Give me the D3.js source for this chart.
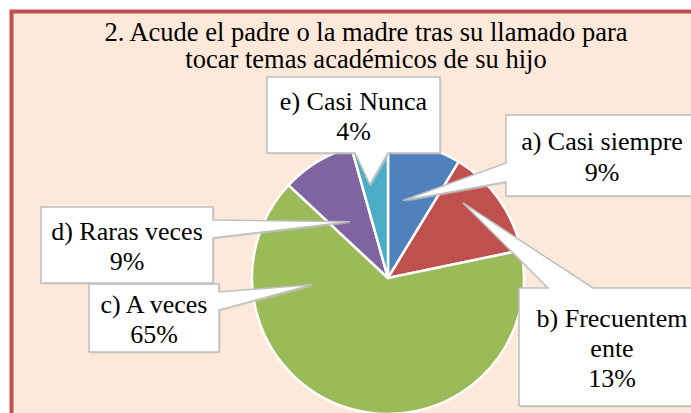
<!DOCTYPE html>
<html>
<head>
<meta charset="utf-8">
<script src="https://cdn.jsdelivr.net/npm/d3@7"></script>
</head>
<body style="margin:0">
<svg id="chart"></svg>
<script>
// data
var titleLines = ["2. Acude el padre o la madre tras su llamado para", "tocar temas académicos de su hijo"];
var categories = ["a) Casi siempre", "b) Frecuentemente", "c) A veces", "d) Raras veces", "e) Casi Nunca"];
var counts = [2, 3, 15, 2, 1];
var colors = ["#4F81BD", "#C0504D", "#9BBB59", "#8064A2", "#4BACC6"];

var width = 691, height = 413;
var cx = 388, cy = 278, radius = 136;
var lineGap = 30.3;

// callout boxes: box, edge the wedge leaves from, wedge span along that edge, tip (deg, fraction of radius)
var callouts = [
  {box: [506, 115, 192, 81], side: "left",   span: [163, 182], tip: [11, 0.58], wrap: 0},
  {box: [519, 288, 186, 118], side: "top",   span: [548, 593], tip: [45, 0.78], wrap: 13},
  {box: [89, 284, 130, 68], side: "right",   span: [292, 310], tip: [265, 0.56], wrap: 0},
  {box: [41, 207, 172, 76], side: "right",   span: [220, 238], tip: [326, 0.50], wrap: 0},
  {box: [267, 77, 173, 76], side: "bottom",  span: [355, 388], tip: [349, 0.70], wrap: 0}
];

var svg = d3.select("#chart").attr("width", width).attr("height", height);

svg.append("rect")
    .attr("x", 11.5).attr("y", 11.5)
    .attr("width", 700).attr("height", 420)
    .attr("fill", "#FDE9D9")
    .attr("stroke", "#C0504D")
    .attr("stroke-width", 4);

svg.selectAll(".title")
  .data(titleLines)
  .enter().append("text")
    .attr("class", "title")
    .attr("x", 366)
    .attr("y", (d, i) => 40.5 + i * 27.8)
    .attr("text-anchor", "middle")
    .attr("font-family", "Liberation Serif")
    .attr("font-size", 26.5)
    .text(d => d);

var total = d3.sum(counts);
var fmt = d3.format(".0%");

var pie = d3.pie().sort(null).value(d => d);
var arc = d3.arc().innerRadius(0).outerRadius(radius);
var arcs = pie(counts);

var g = svg.append("g").attr("transform", "translate(" + cx + "," + cy + ")");

g.selectAll("path")
  .data(arcs)
  .enter().append("path")
    .attr("d", arc)
    .attr("fill", (d, i) => colors[i])
    .attr("stroke", "#fff")
    .attr("stroke-width", 2.5)
    .attr("stroke-linejoin", "round");

function calloutPath(c) {
  var x = c.box[0], y = c.box[1], w = c.box[2], h = c.box[3];
  var p = d3.pointRadial(c.tip[0] * Math.PI / 180, c.tip[1] * radius);
  var tx = cx + p[0], ty = cy + p[1];
  var a = c.span[0], b = c.span[1];
  var path = d3.path();
  path.moveTo(x, y);
  if (c.side == "top") { path.lineTo(a, y); path.lineTo(tx, ty); path.lineTo(b, y); }
  path.lineTo(x + w, y);
  if (c.side == "right") { path.lineTo(x + w, a); path.lineTo(tx, ty); path.lineTo(x + w, b); }
  path.lineTo(x + w, y + h);
  if (c.side == "bottom") { path.lineTo(b, y + h); path.lineTo(tx, ty); path.lineTo(a, y + h); }
  path.lineTo(x, y + h);
  if (c.side == "left") { path.lineTo(x, b); path.lineTo(tx, ty); path.lineTo(x, a); }
  path.closePath();
  return path.toString();
}

var labels = svg.selectAll(".callout")
  .data(callouts)
  .enter().append("g")
    .attr("class", "callout");

// soft shadow
labels.append("path")
    .attr("d", calloutPath)
    .attr("transform", "translate(1.5,1.5)")
    .attr("fill", "#C8C8C8")
    .attr("opacity", 0.6);

labels.append("path")
    .attr("d", calloutPath)
    .attr("fill", "#fff")
    .attr("stroke", "#BFBFBF")
    .attr("stroke-width", 1.5)
    .attr("stroke-linejoin", "miter");

labels.each(function(c, i) {
  var name = categories[i];
  var lines = c.wrap ? [name.slice(0, c.wrap), name.slice(c.wrap)] : [name];
  lines.push(fmt(counts[i] / total));
  var x = c.box[0] + c.box[2] / 2;
  var y0 = c.box[1] + c.box[3] / 2 - (lines.length - 1) * lineGap / 2 + 10;
  d3.select(this).selectAll("text")
    .data(lines)
    .enter().append("text")
      .attr("x", x)
      .attr("y", (d, j) => y0 + j * lineGap)
      .attr("text-anchor", "middle")
      .attr("font-family", "Liberation Serif")
      .attr("font-size", 26)
      .text(d => d);
});
</script>
</body>
</html>
